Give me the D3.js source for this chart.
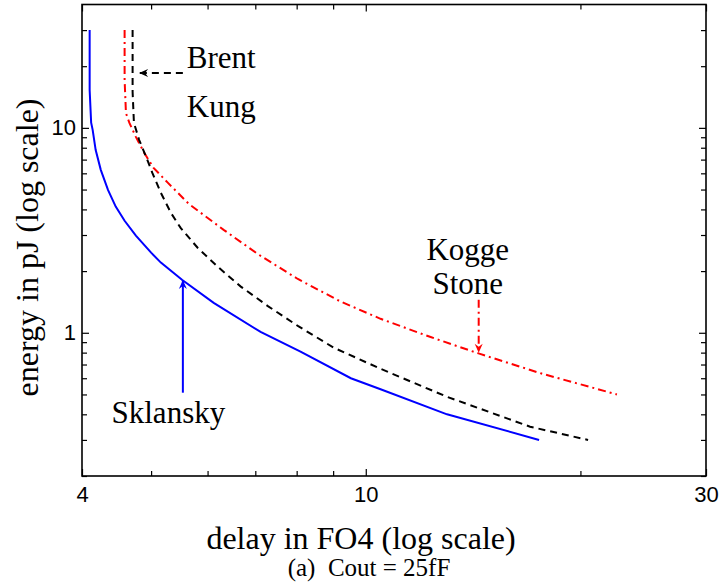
<!DOCTYPE html>
<html>
<head>
<meta charset="utf-8">
<script src="https://cdn.jsdelivr.net/npm/d3@7"></script>
<style>
  body { margin: 0; background: #fff; }
  .serif { font-family: "Liberation Serif", "Times New Roman", serif; fill: #000; }
  .tick text { font-family: "Liberation Sans", Arial, sans-serif; font-size: 22px; fill: #000; }
  .axis path { display: none; }
  .axis line { stroke: #000; stroke-width: 1.2; }
</style>
</head>
<body>
<div id="graphContainer"></div>
<script>
var W = 722, H = 588;
var margin = {top: 4.5, right: 16, bottom: 112, left: 82},
width = W - margin.left - margin.right,
height = H - margin.top - margin.bottom;

// delay (FO4) vs energy (pJ)
var sklanskyDelay  = [4.10, 4.10, 4.12, 4.14, 4.18, 4.25, 4.35, 4.46, 4.59, 4.76, 5.00, 5.16, 5.53, 6.12, 7.12, 8.10, 9.53, 10.49, 13.0, 17.5]
var sklanskyEnergy = [30, 15.3, 10.6, 9.78, 7.81, 6.24, 4.98, 4.13, 3.52, 2.98, 2.46, 2.20, 1.81, 1.40, 1.01, 0.81, 0.60, 0.53, 0.40, 0.30]

var brentDelay  = [4.71, 4.71, 4.73, 4.81, 4.92, 5.02, 5.16, 5.33, 5.50, 5.81, 6.20, 6.68, 7.29, 8.03, 9.01, 10.49, 13.0, 17.0, 20.5]
var brentEnergy = [30, 15, 10.6, 8.74, 7.22, 6.03, 4.82, 3.85, 3.25, 2.60, 2.10, 1.68, 1.35, 1.08, 0.847, 0.667, 0.487, 0.348, 0.30]

var koggeDelay  = [4.59, 4.59, 4.61, 4.66, 4.76, 4.89, 5.04, 5.28, 5.65, 6.32, 7.06, 8.03, 9.22, 10.49, 12.33, 14.39, 17.6, 22.5]
var koggeEnergy = [30, 17.1, 11.8, 10.6, 9.04, 7.55, 6.38, 5.39, 4.25, 3.18, 2.42, 1.83, 1.42, 1.17, 0.953, 0.793, 0.634, 0.50]

var xMajor = [4, 10, 30]
var xMinor = [5, 6, 7, 8, 9, 20]
var yMajor = [1, 10]
var yMinor = [0.2, 0.3, 0.4, 0.5, 0.6, 0.7, 0.8, 0.9, 2, 3, 4, 5, 6, 7, 8, 9, 20, 30]

var svg = d3.select("#graphContainer").append("svg")
  .attr("width", W)
  .attr("height", H)
  .append("g")
    .attr("transform", "translate(" + margin.left + "," + margin.top + ")");

var x = d3.scaleLog().domain([4, 30]).range([0, width])
var y = d3.scaleLog().domain([0.2, 40]).range([height, 0])

var defs = svg.append("defs")
function marker(id, color){
  defs.append("marker")
    .attr("id", id)
    .attr("viewBox", "-10 -5 10 10")
    .attr("refX", 0).attr("refY", 0)
    .attr("markerUnits", "userSpaceOnUse")
    .attr("markerWidth", 10).attr("markerHeight", 10)
    .attr("orient", "auto")
    .append("path")
      .attr("d", "M0,0L-9,-4L-6,0L-9,4Z")
      .attr("fill", color)
}
marker("arrowBlack", "#000")
marker("arrowRed", "#f00")
marker("arrowBlue", "#00f")

// tick labels (no tick lines)
svg.append("g")
  .attr("class", "axis")
  .attr("transform", "translate(0," + height + ")")
  .call(d3.axisBottom(x).tickValues(xMajor).tickSize(0).tickPadding(10).tickFormat(d3.format("d")))

svg.append("g")
  .attr("class", "axis")
  .call(d3.axisLeft(y).tickValues(yMajor).tickSize(0).tickPadding(6).tickFormat(d3.format("d")))

// inward ticks on all four sides
function ticks(axis, vals, size, transform){
  svg.append("g")
    .attr("class", "axis")
    .attr("transform", transform)
    .call(axis.tickValues(vals).tickSize(-size).tickFormat(""))
}
ticks(d3.axisBottom(x), xMajor, 7, "translate(0," + height + ")")
ticks(d3.axisBottom(x), xMinor, 5, "translate(0," + height + ")")
ticks(d3.axisTop(x), xMajor, 7, "translate(0,0)")
ticks(d3.axisTop(x), xMinor, 5, "translate(0,0)")
ticks(d3.axisLeft(y), yMajor, 7, "translate(0,0)")
ticks(d3.axisLeft(y), yMinor, 5, "translate(0,0)")
ticks(d3.axisRight(y), yMajor, 7, "translate(" + width + ",0)")
ticks(d3.axisRight(y), yMinor, 5, "translate(" + width + ",0)")

svg.append("rect")
  .attr("width", width)
  .attr("height", height)
  .attr("fill", "none")
  .attr("stroke", "#000")
  .attr("stroke-width", 1.6)

var line = d3.line()
  .x(function(d){ return x(d[0]) })
  .y(function(d){ return y(d[1]) })

var series = [
  {delay: koggeDelay, energy: koggeEnergy, color: "#f00", dash: "8,4,2,4"},
  {delay: brentDelay, energy: brentEnergy, color: "#000", dash: "7,5"},
  {delay: sklanskyDelay, energy: sklanskyEnergy, color: "#00f", dash: null}
]

series.forEach(function(s){
  svg.append("path")
    .datum(d3.zip(s.delay, s.energy))
    .attr("d", line)
    .attr("fill", "none")
    .attr("stroke", s.color)
    .attr("stroke-width", 2)
    .attr("stroke-dasharray", s.dash)
})

// annotations, positioned in data units
var arrows = [
  {from: [5.54, 18.5], to: [4.81, 18.5], color: "#000", dash: "7,5", marker: "arrowBlack"},
  {from: [14.4, 1.45], to: [14.4, 0.80], color: "#f00", dash: "8,4,2,4", marker: "arrowRed"},
  {from: [5.54, 0.51], to: [5.54, 1.81], color: "#00f", dash: null, marker: "arrowBlue"}
]
arrows.forEach(function(a){
  svg.append("line")
    .attr("x1", x(a.from[0])).attr("y1", y(a.from[1]))
    .attr("x2", x(a.to[0])).attr("y2", y(a.to[1]))
    .attr("stroke", a.color)
    .attr("stroke-width", 2)
    .attr("stroke-dasharray", a.dash)
    .attr("marker-end", "url(#" + a.marker + ")")
})

var labels = [
  {text: "Brent", at: [5.61, 19.6], anchor: "start"},
  {text: "Kung", at: [5.61, 11.3], anchor: "start"},
  {text: "Kogge", at: [13.9, 2.27], anchor: "middle"},
  {text: "Stone", at: [13.9, 1.55], anchor: "middle"},
  {text: "Sklansky", at: [4.40, 0.364], anchor: "start"}
]
svg.selectAll(".note")
  .data(labels)
  .enter().append("text")
    .attr("class", "note serif")
    .attr("x", function(d){ return x(d.at[0]) })
    .attr("y", function(d){ return y(d.at[1]) })
    .style("text-anchor", function(d){ return d.anchor })
    .style("font-size", "31px")
    .text(function(d){ return d.text })

svg.append("text")
  .attr("class", "serif")
  .attr("transform", "rotate(-90)")
  .attr("x", -243)
  .attr("y", 38 - margin.left)
  .style("text-anchor", "middle")
  .style("font-size", "32px")
  .text("energy in pJ (log scale)")

svg.append("text")
  .attr("class", "serif")
  .attr("x", 361 - margin.left)
  .attr("y", 549 - margin.top)
  .style("text-anchor", "middle")
  .style("font-size", "32px")
  .text("delay in FO4 (log scale)")

svg.append("text")
  .attr("class", "serif")
  .attr("x", 369 - margin.left)
  .attr("y", 576 - margin.top)
  .style("text-anchor", "middle")
  .style("font-size", "25px")
  .style("white-space", "pre")
  .text("(a)  Cout = 25fF")
</script>
</body>
</html>
